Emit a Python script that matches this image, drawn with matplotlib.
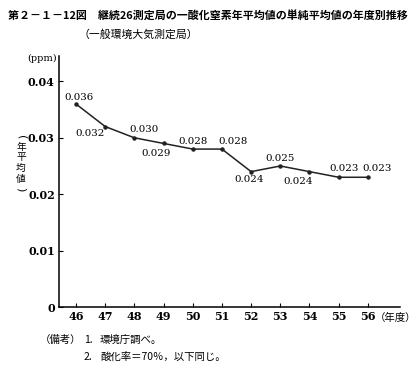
import matplotlib
matplotlib.use("Agg")
import matplotlib.pyplot as plt

plt.rcParams['font.family'] = ['Noto Sans CJK JP', 'DejaVu Sans']

years = [46, 47, 48, 49, 50, 51, 52, 53, 54, 55, 56]
values = [0.036, 0.032, 0.030, 0.029, 0.028, 0.028, 0.024, 0.025, 0.024, 0.023, 0.023]
value_labels = ["0.036", "0.032", "0.030", "0.029", "0.028", "0.028", "0.024", "0.025", "0.024", "0.023", "0.023"]
y_ticks = [0, 0.01, 0.02, 0.03, 0.04]
y_tick_labels = ["0", "0.01", "0.02", "0.03", "0.04"]

title = "第２－１－12図　継続26測定局の一酸化窒素年平均値の単純平均値の年度別推移"
subtitle = "（一般環境大気測定局）"
y_label = "(年平均値)"
notes = ["（備考）", "1.", "環境庁調べ。", "2.", "酸化率＝70％，以下同じ。"]

fig = plt.figure(figsize=(4.2, 3.68), dpi=100)
ax = fig.add_axes([59/420, 1-307/368, 341/420, (307-56)/368])
ax.plot(years, values, color='#222222', lw=1.1, marker='o', ms=2.2)
ax.set_xlim(45.42, 57.1)
ax.set_ylim(0, 0.0445)
ax.set_xticks(years)
ax.set_xticklabels([str(y) for y in years], family='DejaVu Serif', fontsize=8, fontweight='bold')
ax.set_yticks(y_ticks)
ax.set_yticklabels(y_tick_labels, family='DejaVu Serif', fontsize=8, fontweight='bold')
ax.tick_params(direction='in', length=3, width=0.8, pad=3)
for s in ['top', 'right']:
    ax.spines[s].set_visible(False)
for s in ['left', 'bottom']:
    ax.spines[s].set_linewidth(1.1)

# label offsets in pixels
offs = [(3, 6), (-15, -7), (10, 8), (-7, -10), (0, 8), (11, 8), (-2, -8), (0, 7), (-11, -10), (5, 9), (9, 9)]
for x, v, lab, (dx, dy) in zip(years, values, value_labels, offs):
    ax.annotate(lab, (x, v), xytext=(dx, dy), textcoords='offset pixels',
                ha='center', va='center', fontsize=7.4, family='DejaVu Serif')

fig.text(8/420, 1-15/368, title, fontsize=7.9, fontweight='bold', va='center', ha='left')
fig.text(78/420, 1-34/368, subtitle, fontsize=7.8, va='center', ha='left')
fig.text(57/420, 1-58/368, "(ppm)", fontsize=7, va='center', ha='right', family='DejaVu Serif')
y_pos = [137, 147, 157, 168, 179, 189]
for ch, yp in zip(y_label, y_pos):
    if ch in "()":
        fig.text(21/420, 1-yp/368, ch, fontsize=8, va='center', ha='center',
                 rotation=-90, family='DejaVu Sans')
    else:
        fig.text(21/420, 1-yp/368, ch, fontsize=7, va='center', ha='center')

fig.text(375/420, 1-318/368, "（年度）", fontsize=7.5, va='center', ha='left')
fig.text(40/420, 1-340/368, notes[0], fontsize=7.5, va='center', ha='left')
fig.text(84/420, 1-340/368, notes[1], fontsize=7.5, va='center', ha='left')
fig.text(100/420, 1-340/368, notes[2], fontsize=7.5, va='center', ha='left')
fig.text(84/420, 1-357/368, notes[3], fontsize=7.5, va='center', ha='left')
fig.text(100/420, 1-357/368, notes[4], fontsize=7.5, va='center', ha='left')

fig.savefig('out.png', dpi=100)
